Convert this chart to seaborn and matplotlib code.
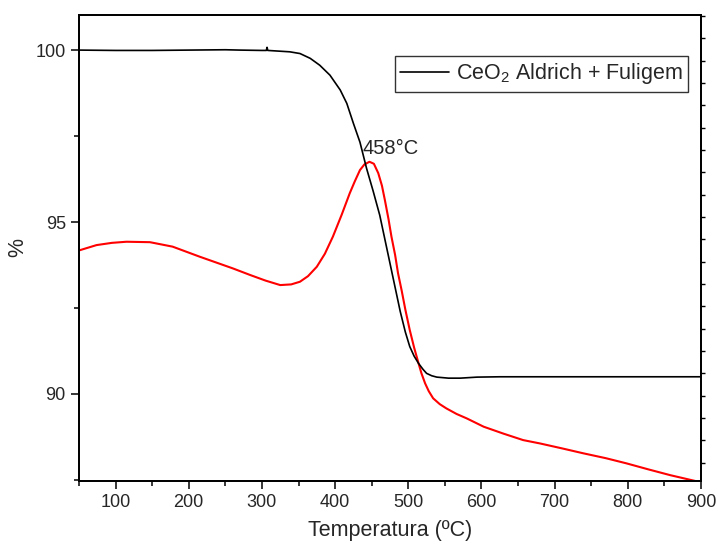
"""
TG / DTG curve of CeO2 Aldrich + soot (fuligem).

Run: python plot.py
"""
import matplotlib

matplotlib.use("Agg")
import matplotlib.pyplot as plt
import pandas as pd
import seaborn as sns
from matplotlib.ticker import MultipleLocator

# TG curve (mass %)
TG_TEMP = [50, 100, 150, 200, 250, 270, 300, 306, 307, 308, 338, 352, 366, 379,
           393, 407, 416, 425, 434, 443, 452, 461, 470, 477, 484, 489, 496, 502,
           508, 514, 520, 525, 532, 539, 555, 571, 594, 625, 900]
TG_MASS = [100.0, 99.99, 99.99, 100.0, 100.01, 100.0, 99.99, 99.99, 100.08, 99.99,
           99.95, 99.90, 99.76, 99.56, 99.27, 98.84, 98.45, 97.87, 97.32, 96.56,
           95.9, 95.2, 94.3, 93.6, 92.9, 92.4, 91.8, 91.38, 91.1, 90.89, 90.72,
           90.60, 90.53, 90.49, 90.46, 90.46, 90.49, 90.50, 90.50]

# DTG curve (arbitrary units on the right axis)
DTG_TEMP = [50, 74, 95, 115, 147, 178, 215, 260, 284, 305, 325, 340, 352, 363,
            375, 386, 397, 409, 420, 427, 434, 440, 447, 453, 459, 464, 468, 473,
            477, 482, 486, 491, 496, 502, 508, 514, 518, 523, 528, 534, 543, 552,
            566, 580, 603, 630, 657, 680, 710, 739, 770, 798, 828, 858, 900]
DTG_VAL = [9.5, 9.74, 9.84, 9.89, 9.87, 9.67, 9.22, 8.70, 8.40, 8.15, 7.95, 7.98,
           8.1, 8.35, 8.77, 9.35, 10.12, 11.1, 12.06, 12.6, 13.1, 13.35, 13.47,
           13.38, 12.96, 12.4, 11.76, 10.9, 10.12, 9.3, 8.48, 7.7, 6.85, 5.94, 5.15,
           4.45, 4.0, 3.55, 3.2, 2.88, 2.62, 2.43, 2.18, 1.98, 1.61, 1.3, 1.01,
           0.86, 0.64, 0.42, 0.2, -0.03, -0.3, -0.56, -0.88]

LEGEND_LABEL = "CeO$_2$ Aldrich + Fuligem"
PEAK_LABEL = "458°C"


def main():
    sns.set_theme(style="ticks")
    plt.rcParams["font.family"] = ["Liberation Sans", "DejaVu Sans"]
    plt.rcParams["mathtext.fontset"] = "custom"
    plt.rcParams["mathtext.rm"] = "Liberation Sans"

    tg = pd.DataFrame({"T": TG_TEMP, "mass": TG_MASS})
    dtg = pd.DataFrame({"T": DTG_TEMP, "dtg": DTG_VAL})

    fig = plt.figure(figsize=(7.18, 5.5), dpi=100)
    ax = fig.add_axes([0.110, 0.1255, 0.8663, 0.8472])
    ax2 = ax.twinx()

    sns.lineplot(data=tg, x="T", y="mass", ax=ax, color="black", lw=1.2,
                 label=LEGEND_LABEL, sort=False)
    sns.lineplot(data=dtg, x="T", y="dtg", ax=ax2, color="#ff0000", lw=1.5,
                 sort=False, legend=False)

    ax.set_xlim(50, 900)
    ax.set_ylim(87.47, 101.02)
    ax2.set_ylim(-0.82, 20.04)

    ax.xaxis.set_major_locator(MultipleLocator(100))
    ax.xaxis.set_minor_locator(MultipleLocator(50))
    ax.yaxis.set_major_locator(MultipleLocator(5))
    ax.yaxis.set_minor_locator(MultipleLocator(2.5))
    ax2.yaxis.set_major_locator(MultipleLocator(1))
    ax2.set_yticklabels([])
    ax2.set_ylabel("")

    ax.tick_params(axis="both", which="major", direction="out", length=6,
                   width=1.1, labelsize=13, color="black")
    ax.tick_params(axis="both", which="minor", direction="out", length=3.5,
                   width=1.1, color="black")
    ax2.tick_params(axis="y", which="major", direction="out", length=3,
                    width=1.0, color="black")

    for a in (ax, ax2):
        for sp in a.spines.values():
            sp.set_visible(True)
            sp.set_linewidth(1.3)
            sp.set_color("black")

    ax.set_xlabel("Temperatura (ºC)", fontsize=15.5, labelpad=6)
    ax.set_ylabel("%", fontsize=15.5, labelpad=5)

    ax.text(438, 97.15, PEAK_LABEL, fontsize=14.5, va="center", ha="left")

    leg = ax.legend(loc="upper right", bbox_to_anchor=(0.979, 0.912),
                    fontsize=15.5, frameon=True, fancybox=False, handlelength=2.3,
                    borderpad=0.25, handletextpad=0.3, borderaxespad=0)
    leg.get_frame().set_edgecolor("black")
    leg.get_frame().set_linewidth(1.0)
    ax.set_zorder(ax2.get_zorder() + 1)
    ax.patch.set_visible(False)

    fig.savefig("out.png", dpi=100)
    plt.close(fig)


if __name__ == "__main__":
    main()
